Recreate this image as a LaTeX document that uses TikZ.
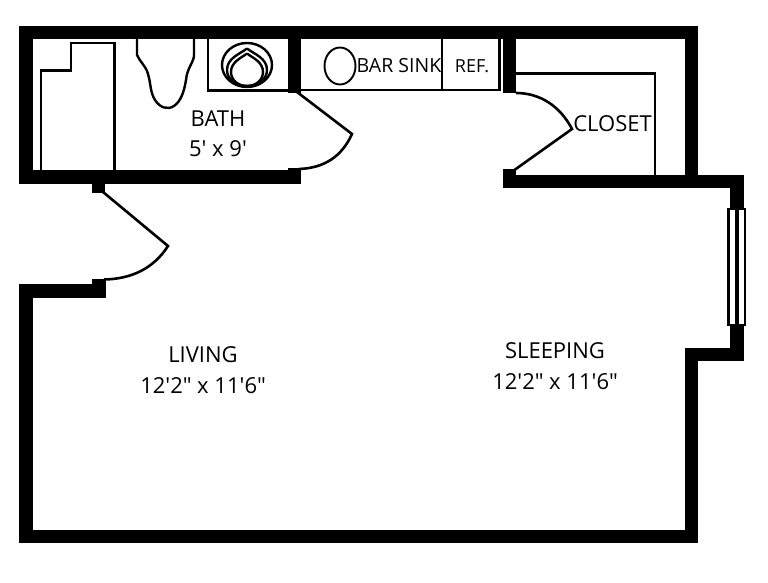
\documentclass[tikz,border=0pt]{standalone}
\usepackage{fontspec}
\setmainfont{Open Sans}
\newcommand{\labelfont}{\fontsize{22}{26}\selectfont}
\tikzset{
  wall/.style={fill=black,draw=none},
  thin wall/.style={draw=black,line width=2.6pt,line join=miter},
  door/.style={draw=black,line width=2.6pt,line join=miter},
  fixture/.style={draw=black,line width=2.4pt},
  room label/.style={font=\labelfont,align=center,inner sep=0pt,text=black}
}
\begin{document}
\begin{tikzpicture}[x=1pt,y=-1pt]
\useasboundingbox (0,0) rectangle (768,583);
% walls
\fill[wall] (19,26) rectangle (698,39);
\fill[wall] (19,26) rectangle (33,184);
\fill[wall] (19,170) rectangle (301,184);
\fill[wall] (92,184) rectangle (105,193);
\fill[wall] (288,39) rectangle (301,93);
\fill[wall] (288,168) rectangle (301,184);
\fill[wall] (503,39) rectangle (516,93);
\fill[wall] (503,169) rectangle (516,175);
\fill[wall] (503,175) rectangle (744,188);
\fill[wall] (685,39) rectangle (698,175);
\fill[wall] (730,175) rectangle (744,361);
\fill[wall] (687,348) rectangle (744,361);
\fill[wall] (685,348) rectangle (698,543);
\fill[wall] (19,530) rectangle (698,543);
\fill[wall] (19,284) rectangle (33,543);
\fill[wall] (19,284) rectangle (106,298);
\fill[wall] (92,279) rectangle (106,284);
% tub
\draw[fixture] (41,170) -- (41,70.5) -- (71,70.5) -- (71,43) -- (114.5,43) -- (114.5,170);
% toilet bowl / sink
\draw[fixture] (137,39) -- (137,55) .. controls (140,62) and (146,66) .. (148,74)
  .. controls (151,84) and (150,92) .. (155,100) .. controls (160,108) and (168,110) .. (174,106)
  .. controls (181,101) and (184,92) .. (186,80) .. controls (187,68) and (194,62) .. (194,55) -- (194,39);
% bath counter
\draw[thin wall] (208,39) -- (208,90.5) -- (288,90.5);
\draw[fixture] (247,65) ellipse [x radius=25,y radius=22];
\draw[fixture] (247,48.5) .. controls (240,54) and (227,58) .. (227,70) .. controls (227,80) and (237,86) .. (247,86)
  .. controls (257,86) and (267,80) .. (267,70) .. controls (267,58) and (254,54) .. (247,48.5);
\draw[fixture] (247,53.5) .. controls (241,58) and (231,62) .. (231,72) .. controls (231,80) and (238,86) .. (247,86)
  .. controls (256,86) and (263,80) .. (263,72) .. controls (263,62) and (253,58) .. (247,53.5);
% bar sink counter
\draw[thin wall] (301,90) -- (499.5,90) -- (499.5,39);
\draw[thin wall] (442,39) -- (442,90);
\draw[fixture,line width=1.9pt] (340,66) ellipse [x radius=15.5,y radius=18.5];
% closet shelf
\draw[thin wall] (516,73.5) -- (655,73.5) -- (655,175);
% doors
\draw[door] (297,92) -- (352,134) .. controls (342,156) and (325,168) .. (299,169);
\draw[door] (516,93) .. controls (540,93) and (560,106) .. (572,129) -- (513,171);
\draw[door] (103,192) -- (168,246) .. controls (154,268) and (132,279) .. (104,279.5);
% window
\fill[white] (728,209) rectangle (745,325);
\draw[draw=black,line width=2.4pt] (728.5,209) rectangle (745,325);
\draw[draw=black,line width=4pt] (736.5,209) -- (736.5,325);
% labels
\node[room label] (bath) at (218,119) {BATH};
\node[room label] (bathsize) at (218,149) {5′ x 9′};
\node[room label,font=\fontsize{19.5}{22}\selectfont] (barsink) at (399,66) {BAR SINK};
\node[room label,font=\fontsize{18}{22}\selectfont] (ref) at (472,66) {REF.};
\node[room label] (closet) at (612.5,124) {CLOSET};
\node[room label] (living) at (203,355) {LIVING};
\node[room label] (livingsize) at (203,386) {12′2″ x 11′6″};
\node[room label] (sleeping) at (555,351) {SLEEPING};
\node[room label] (sleepingsize) at (555,382) {12′2″ x 11′6″};
\end{tikzpicture}
\end{document}
